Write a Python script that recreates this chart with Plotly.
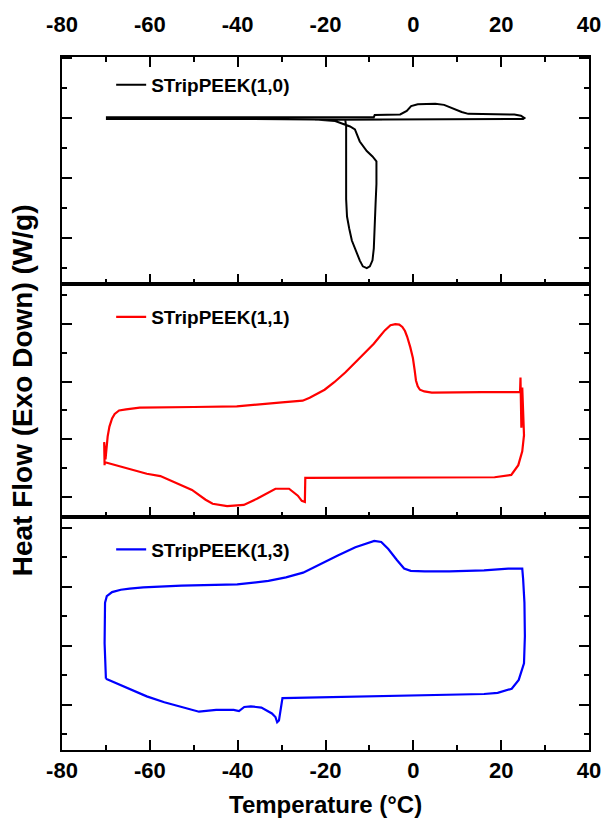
import plotly.graph_objects as go

# ---------------- data ----------------
X_RANGE = [-80, 40]
X_TICKS = [-80, -60, -40, -20, 0, 20, 40]

NAMES = ["STripPEEK(1,0)", "STripPEEK(1,1)", "STripPEEK(1,3)"]
COLORS = ["#000000", "#ff0000", "#0000ff"]

# STripPEEK(1,0): heating then cooling (temperature in degC, heat flow in arbitrary W/g units)
t_10 = [-70.0, -30.0, -9.0, -8.8, -3.0, -1.5, -0.5, 1.0, 3.0, 5.0, 7.0, 9.0, 11.0, 12.5, 18.0, 23.0, 24.5, 25.3,
        25.0, -21.6, -17.8, -15.5, -14.4, -13.3, -12.2, -10.6, -9.3, -8.4, -8.4, -8.6, -8.8, -9.0, -9.3, -9.9,
        -10.6, -11.5, -12.2, -13.3, -14.0, -14.6, -15.1, -15.3, -15.3, -15.3, -15.5, -40.0, -70.0]
h_10 = [0.015, 0.015, 0.015, 0.05, 0.06, 0.12, 0.20, 0.23, 0.24, 0.24, 0.22, 0.16, 0.10, 0.07, 0.06, 0.06, 0.04, 0.0,
        -0.015, -0.03, -0.05, -0.11, -0.14, -0.19, -0.39, -0.55, -0.64, -0.72, -1.10, -1.43, -1.81, -2.17, -2.37, -2.47,
        -2.50, -2.47, -2.37, -2.17, -2.04, -1.84, -1.64, -1.35, -0.60, -0.14, -0.03, -0.015, -0.015]

# STripPEEK(1,1)
t_11 = [-70.3, -70.4, -70.1, -69.9, -69.6, -69.2, -68.6, -68.0, -67.0, -65.4, -62.3, -50.0, -40.2, -29.9, -27.0,
        -25.2, -23.6, -22.0, -20.2, -18.0, -15.5, -13.0, -10.8, -9.0, -7.7, -6.5, -5.2, -4.1, -3.2, -2.5, -1.9,
        -1.4, -0.7, -0.1, 0.3, 0.6, 1.0, 1.5, 2.5, 4.2, 15.6, 24.3, 24.4, 24.6, 24.8, 25.0, 25.2,
        24.8, 23.9, 22.3, 18.5, -24.3, -24.6, -24.7, -25.4, -26.3, -28.3, -31.4, -33.0, -35.5, -38.6, -42.4, -45.7,
        -47.3, -50.4, -57.6, -60.7, -69.5, -70.2]
h_11 = [-0.45, -0.05, -0.35, -0.15, 0.05, 0.22, 0.36, 0.44, 0.50, 0.52, 0.55, 0.56, 0.57, 0.64, 0.66,
        0.67, 0.72, 0.78, 0.86, 0.99, 1.16, 1.35, 1.52, 1.66, 1.78, 1.89, 1.98, 2.00, 1.99, 1.95, 1.88,
        1.78, 1.60, 1.41, 1.20, 1.02, 0.92, 0.86, 0.83, 0.81, 0.82, 0.82, 1.07, 0.20, 0.90, 0.36, 0.07,
        -0.21, -0.45, -0.62, -0.66, -0.67, -0.67, -1.09, -1.07, -0.98, -0.86, -0.86, -0.93, -1.03, -1.14, -1.16, -1.12,
        -1.05, -0.88, -0.64, -0.60, -0.41, -0.40]

# STripPEEK(1,3)
t_13 = [-70.0, -70.3, -70.2, -69.8, -68.6, -66.6, -64.6, -61.5, -52.8, -40.1, -33.0, -29.0, -25.1, -21.1, -17.2,
        -13.2, -10.8, -8.9, -7.3, -5.7, -3.7, -2.1, -0.6, 2.6, 8.2, 16.1, 21.6, 24.8,
        25.0, 25.3, 25.4, 25.2, 24.0, 22.4, 19.2, 16.1, -29.8, -30.6, -31.0, -31.4, -32.2, -34.6, -37.0, -38.5,
        -39.7, -40.9, -44.9, -48.8, -56.7, -60.7, -70.0]
h_13 = [-0.56, 0.04, 0.73, 0.84, 0.91, 0.95, 0.97, 0.99, 1.02, 1.04, 1.10, 1.16, 1.24, 1.39, 1.53,
        1.67, 1.73, 1.78, 1.76, 1.64, 1.45, 1.31, 1.27, 1.26, 1.26, 1.28, 1.31, 1.31,
        1.13, 0.73, 0.16, -0.30, -0.58, -0.73, -0.80, -0.82, -0.89, -1.27, -1.30, -1.21, -1.15, -1.05, -1.03, -1.04,
        -1.11, -1.09, -1.09, -1.12, -0.96, -0.86, -0.56]

SERIES_T = [t_10, t_11, t_13]
SERIES_H = [h_10, h_11, h_13]
Y_RANGES = [[-2.77, 1.017], [-1.345, 2.69], [-1.77, 2.19]]

# ---------------- figure ----------------
W, H = 613, 830
ML, MR, MT, MB = 62, 15, 52, 80
PH = H - MT - MB
PW = W - ML - MR
bounds_px = [52, 281, 515, 750]
domains = []
for i in range(3):
    top = (750 - bounds_px[i]) / PH
    bot = (750 - bounds_px[i + 1]) / PH
    domains.append([bot, top])

FONT = "Liberation Sans, Arial, sans-serif"

fig = go.Figure()
suffix = ["", "2", "3"]
legends = ["legend", "legend2", "legend3"]
for i in range(3):
    fig.add_trace(go.Scatter(
        x=SERIES_T[i], y=SERIES_H[i], mode="lines", name=NAMES[i],
        line=dict(color=COLORS[i], width=2.2 if i else 2),
        xaxis="x" + suffix[i], yaxis="y" + suffix[i], legend=legends[i],
    ))

axis_common = dict(showline=True, linecolor="black", linewidth=2, showgrid=False, zeroline=False,
                   ticks="inside", tickcolor="black", tickwidth=2)
tickfont = dict(family=FONT, size=22, color="black", weight="bold")

layout = dict(width=W, height=H, margin=dict(l=ML, r=MR, t=MT, b=MB),
              paper_bgcolor="white", plot_bgcolor="white")

for i in range(3):
    xa = dict(axis_common, domain=[0, 1], anchor="y" + suffix[i], range=X_RANGE,
              tickvals=X_TICKS, ticktext=[str(v) for v in X_TICKS], ticklen=10,
              minor=dict(dtick=10, tick0=0, ticklen=5, tickwidth=2, ticks="inside", tickcolor="black"),
              tickfont=tickfont)
    if i == 0:
        xa.update(side="top", mirror="ticks", showticklabels=True, ticklabelstandoff=14)
    elif i == 1:
        xa.update(side="bottom", mirror=True, showticklabels=False, matches="x")
    else:
        xa.update(side="bottom", mirror=True, showticklabels=True, matches="x")
    ya = dict(axis_common, domain=domains[i], anchor="x" + suffix[i], range=Y_RANGES[i],
              tick0=0, dtick=1, ticklen=10, mirror="ticks", showticklabels=False,
              minor=dict(dtick=0.5, tick0=0, ticklen=5, tickwidth=2, ticks="inside", tickcolor="black"))
    layout["xaxis" + suffix[i]] = xa
    layout["yaxis" + suffix[i]] = ya

legend_y_px = [80, 314, 548]
for i in range(3):
    layout[legends[i]] = dict(x=(112 - ML) / PW, xanchor="left",
                              y=(750 - legend_y_px[i]) / PH, yanchor="middle",
                              bgcolor="rgba(0,0,0,0)", borderwidth=0,
                              font=dict(family=FONT, size=19, color="black", weight="bold"))

layout["annotations"] = [
    dict(text="Heat Flow (Exo Down) (W/g)", textangle=-90, xref="paper", yref="paper",
         x=(22 - ML) / PW, y=(750 - 388) / PH, xanchor="center", yanchor="middle",
         showarrow=False, font=dict(family=FONT, size=28, color="black", weight="bold")),
    dict(text="Temperature (°C)", xref="paper", yref="paper",
         x=0.5, y=(750 - 805) / PH, xanchor="center", yanchor="middle",
         showarrow=False, font=dict(family=FONT, size=24, color="black", weight="bold")),
]
layout["showlegend"] = True
fig.update_layout(**layout)

fig.write_html("out.html")
